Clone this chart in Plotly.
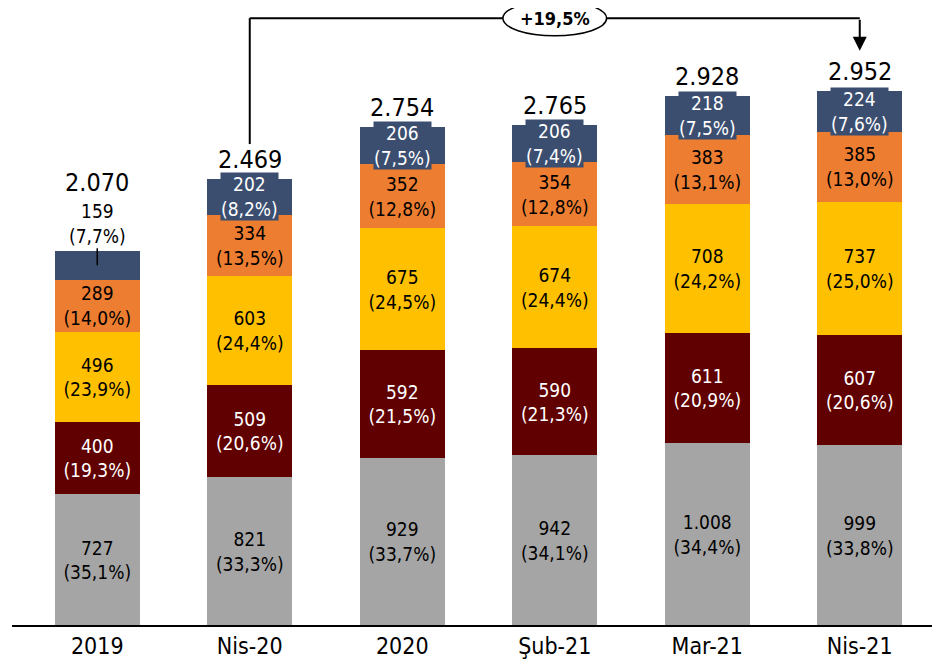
import plotly.graph_objects as go

categories = ["2019", "Nis-20", "2020", "Şub-21", "Mar-21", "Nis-21"]
gray_vals = [727, 821, 929, 942, 1008, 999]
maroon_vals = [400, 509, 592, 590, 611, 607]
gold_vals = [496, 603, 675, 674, 708, 737]
orange_vals = [289, 334, 352, 354, 383, 385]
navy_vals = [159, 202, 206, 206, 218, 224]
totals = [2070, 2469, 2754, 2765, 2928, 2952]
gray_pct = ["35,1", "33,3", "33,7", "34,1", "34,4", "33,8"]
maroon_pct = ["19,3", "20,6", "21,5", "21,3", "20,9", "20,6"]
gold_pct = ["23,9", "24,4", "24,5", "24,4", "24,2", "25,0"]
orange_pct = ["14,0", "13,5", "12,8", "12,8", "13,1", "13,0"]
navy_pct = ["7,7", "8,2", "7,5", "7,4", "7,5", "7,6"]
growth_label = "+19,5%"

FONT = "DejaVu Sans Condensed, DejaVu Sans, sans-serif"
SEG = 19


def fmt(v):
    return f"{v:,}".replace(",", ".")


def labels(vals, pcts):
    return [f"{fmt(v)}<br>({p}%)" for v, p in zip(vals, pcts)]


fig = go.Figure()
series = [
    (gray_vals, gray_pct, "#A5A5A5", "black"),
    (maroon_vals, maroon_pct, "#600000", "white"),
    (gold_vals, gold_pct, "#FFC000", "black"),
    (orange_vals, orange_pct, "#ED7D31", "black"),
]
for vals, pcts, col, tcol in series:
    fig.add_trace(go.Bar(
        x=categories, y=vals, marker=dict(color=col, line=dict(width=0)),
        text=labels(vals, pcts), textposition="inside", insidetextanchor="middle",
        constraintext="none", textfont=dict(color=tcol, size=SEG, family=FONT),
        showlegend=False, hoverinfo="skip",
    ))
NAVY = "#3B4E6F"
fig.add_trace(go.Bar(
    x=categories, y=navy_vals, marker=dict(color=NAVY, line=dict(width=0)),
    showlegend=False, hoverinfo="skip",
))

annotations = []
for i, cat in enumerate(categories):
    base = gray_vals[i] + maroon_vals[i] + gold_vals[i] + orange_vals[i]
    mid = base + navy_vals[i] / 2
    txt = f"{fmt(navy_vals[i])}<br>({navy_pct[i]}%)"
    if i == 0:
        annotations.append(dict(
            x=i, y=mid, text=txt, showarrow=True, arrowhead=0, arrowwidth=1.5,
            arrowcolor="black", ax=0, ay=-42, font=dict(size=SEG, color="black", family=FONT),
        ))
        annotations.append(dict(
            x=i, y=totals[i], text=fmt(totals[i]), showarrow=False, yanchor="bottom",
            yshift=52, font=dict(size=25, color="black", family=FONT),
        ))
    else:
        annotations.append(dict(
            x=i, y=mid, text=txt, showarrow=False, bgcolor=NAVY, borderpad=0,
            font=dict(size=SEG, color="white", family=FONT),
        ))
        annotations.append(dict(
            x=i, y=totals[i], text=fmt(totals[i]), showarrow=False, yanchor="bottom",
            yshift=3, font=dict(size=25, color="black", family=FONT),
        ))

# growth bracket
YB = 3355
annotations.append(dict(
    x=5, y=3175, ax=5, ay=YB, axref="x", ayref="y", xref="x", yref="y",
    showarrow=True, arrowhead=2, arrowsize=1.4, arrowwidth=2, arrowcolor="black", text="",
))
annotations.append(dict(
    x=3, y=YB, text=f"<b>{growth_label}</b>", showarrow=False,
    font=dict(size=18, color="black", family=FONT),
))

shapes = [
    dict(type="line", xref="x", yref="y", x0=1, x1=1, y0=2660, y1=YB,
         line=dict(color="black", width=2)),
    dict(type="line", xref="x", yref="y", x0=1, x1=5, y0=YB, y1=YB,
         line=dict(color="black", width=2)),
    dict(type="circle", xref="x", yref="paper", x0=2.66, x1=3.34, y0=0.955, y1=1.0115,
         fillcolor="white", line=dict(color="black", width=1.5), layer="above"),
    dict(type="line", xref="paper", yref="paper", x0=-0.0098, x1=0.9956, y0=0, y1=0,
         line=dict(color="black", width=2)),
]

fig.update_layout(
    barmode="stack", bargap=0.443,
    width=941, height=664,
    margin=dict(l=13, r=13, t=0, b=46),
    plot_bgcolor="white", paper_bgcolor="white",
    xaxis=dict(type="category", range=[-0.5, 5.5], showgrid=False, showline=False,
               automargin=False, ticks="", ticklen=0, ticklabelstandoff=4,
               tickfont=dict(size=23, color="black", family=FONT)),
    yaxis=dict(range=[0, 3411], visible=False, automargin=False),
    annotations=annotations, shapes=shapes,
    font=dict(family=FONT),
)

fig.write_html("out.html")
